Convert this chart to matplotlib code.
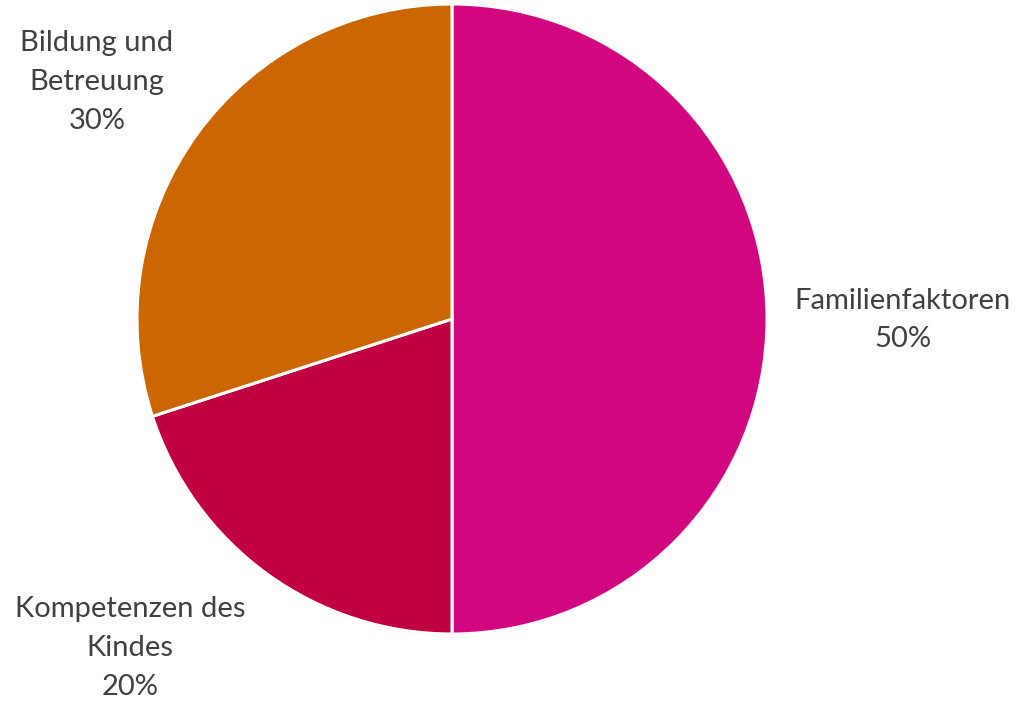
import matplotlib.pyplot as plt

# Daten
labels = ['Familienfaktoren', 'Kompetenzen des\nKindes', 'Bildung und\nBetreuung']
values = [50, 20, 30]
colors = ['#D20780', '#C00040', '#CC6600']

fig = plt.figure(figsize=(10.19, 7.01), dpi=100)
ax = fig.add_axes([0, 0, 1, 1])

wedges, _ = ax.pie(values, colors=colors, startangle=90, counterclock=False,
                   center=(452, 382), radius=315,
                   wedgeprops=dict(edgecolor='white', linewidth=2.2))

# Achsen nach pie() setzen (pie überschreibt die Grenzen)
ax.set_xlim(0, 1019)
ax.set_ylim(0, 701)
ax.set_aspect('equal')
ax.axis('off')

# Beschriftungen (Position in Pixeln)
label_pos = [(903, 381), (130, 53), (97, 619)]
for lab, v, (x, y) in zip(labels, values, label_pos):
    ax.text(x, y, f'{lab}\n{v}%', ha='center', va='center', fontsize=21,
            family='Lato', color='#404040', linespacing=1.6)

fig.savefig('out.png', dpi=100)
